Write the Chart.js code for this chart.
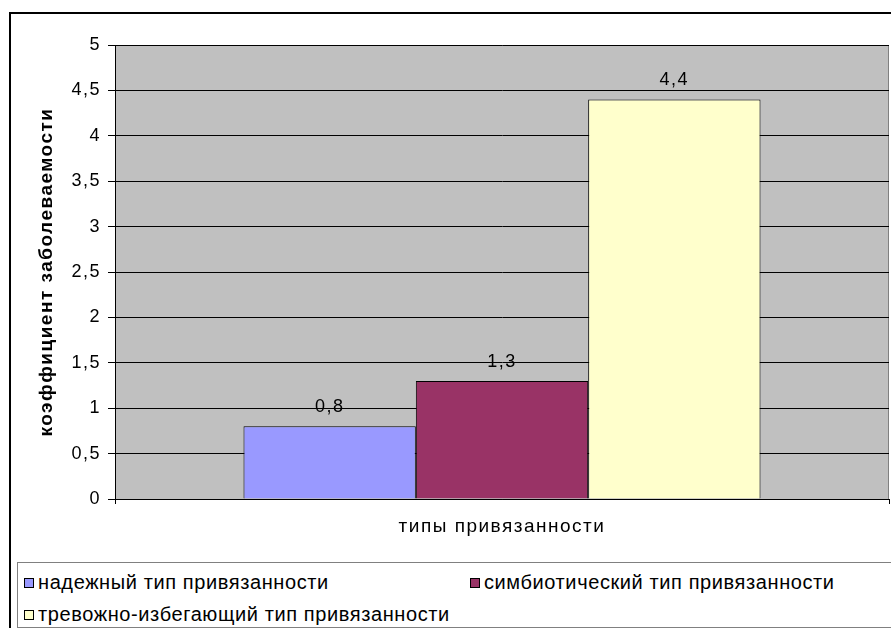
<!DOCTYPE html>
<html>
<head>
<meta charset="utf-8">
<script src="https://cdn.jsdelivr.net/npm/chart.js@4/dist/chart.umd.min.js"></script>
<style>
  html, body { margin: 0; padding: 0; background: #fff; }
  body { width: 891px; height: 628px; position: relative; overflow: hidden; font-family: Arial, "Liberation Sans", sans-serif; }
  #frame { position: absolute; left: 9px; top: 12px; width: 900px; height: 700px; border: 2px solid #000; }
  #chart { position: absolute; left: 0; top: 0; }
  #legend { position: absolute; left: 17px; top: 562px; width: 900px; height: 64px; border: 1px solid #808080; border-right: none; background: #fff; }
  .item { position: absolute; font-size: 20px; letter-spacing: 0.6px; color: #000; white-space: nowrap; line-height: 24px; }
  .item i { display: inline-block; width: 8px; height: 8px; border: 1px solid #000; margin-right: 4px; vertical-align: 1px; }
</style>
</head>
<body>
<div id="frame"></div>
<canvas id="chart" width="891" height="628"></canvas>
<div id="legend"></div>
<script>
const categories = [''];
const seriesNames = ['надежный тип привязанности', 'симбиотический тип привязанности', 'тревожно-избегающий тип привязанности'];
const seriesValues = [[0.8], [1.3], [4.4]];
const seriesColors = ['#9999FF', '#993366', '#FFFFCC'];
const yTicks = [0, 0.5, 1, 1.5, 2, 2.5, 3, 3.5, 4, 4.5, 5];
const yTitle = 'коэффициент заболеваемости';
const xTitle = 'типы привязанности';

const FONT = 'Arial, "Liberation Sans", sans-serif';
const fmt = v => String(v).replace('.', ',');

// the original text is drawn a bit wider than plain Arial
const spacing = {
    id: 'spacing',
    beforeLayout(chart) { chart.ctx.letterSpacing = '1.5px'; },
    beforeDraw(chart) { chart.ctx.letterSpacing = '1.5px'; }
};

const valueLabels = {
    id: 'valueLabels',
    afterDatasetsDraw(chart) {
        const ctx = chart.ctx;
        ctx.save();
        ctx.font = '18px ' + FONT;
        ctx.fillStyle = '#000';
        ctx.textAlign = 'center';
        ctx.textBaseline = 'middle';
        chart.data.datasets.forEach((ds, i) => {
            chart.getDatasetMeta(i).data.forEach((bar, j) => {
                ctx.fillText(fmt(ds.data[j]), bar.x, bar.y - 19);
            });
        });
        ctx.restore();
    }
};

const plotBg = {
    id: 'plotBg',
    beforeDraw(chart) {
        const {ctx, chartArea: a} = chart;
        ctx.save();
        ctx.fillStyle = '#C0C0C0';
        ctx.fillRect(a.left, a.top, a.right - a.left, a.bottom - a.top);
        ctx.strokeStyle = '#808080';
        ctx.lineWidth = 1;
        ctx.strokeRect(a.left + 0.5, a.top + 0.5, a.right - a.left - 1, a.bottom - a.top);
        ctx.restore();
    }
};

new Chart(document.getElementById('chart'), {
    type: 'bar',
    data: {
        labels: categories,
        datasets: seriesNames.map((name, i) => ({
            label: name,
            data: seriesValues[i],
            backgroundColor: seriesColors[i],
            borderColor: '#000',
            borderWidth: 1,
            barPercentage: 1,
            categoryPercentage: 0.668
        }))
    },
    options: {
        responsive: false,
        animation: false,
        layout: { padding: { left: 0, top: 45, right: 2, bottom: 73 } },
        plugins: { legend: { display: false }, tooltip: { enabled: false } },
        scales: {
            x: {
                grid: { display: true, drawOnChartArea: false, offset: true, tickLength: 5, color: '#000' },
                border: { color: '#000', width: 1 },
                ticks: { display: false },
                title: { display: true, text: xTitle, color: '#000', font: { family: FONT, size: 19 }, padding: { top: 0, bottom: 17 } },
                afterFit(scale) { scale.height = 56; }
            },
            y: {
                min: 0,
                max: 5,
                afterBuildTicks(scale) { scale.ticks = yTicks.map(v => ({ value: v })); },
                grid: { color: '#000', tickLength: 7, tickColor: '#000', lineWidth: 1 },
                border: { color: '#000', width: 1 },
                ticks: { color: '#000', padding: 7, font: { family: FONT, size: 18 }, callback: v => fmt(v) },
                title: { display: true, text: yTitle, color: '#000', font: { family: FONT, size: 19, weight: 'bold' }, padding: { top: 35, bottom: 0 } },
                afterFit(scale) { scale.width = 115; }
            }
        }
    },
    plugins: [spacing, plotBg, valueLabels]
});

const legend = document.getElementById('legend');
const spots = [[6, 7], [452, 7], [6, 39]];
seriesNames.forEach((name, i) => {
    const el = document.createElement('div');
    el.className = 'item';
    el.style.left = spots[i][0] + 'px';
    el.style.top = spots[i][1] + 'px';
    el.innerHTML = '<i style="background:' + seriesColors[i] + '"></i>' + name;
    legend.appendChild(el);
});
</script>
</body>
</html>
